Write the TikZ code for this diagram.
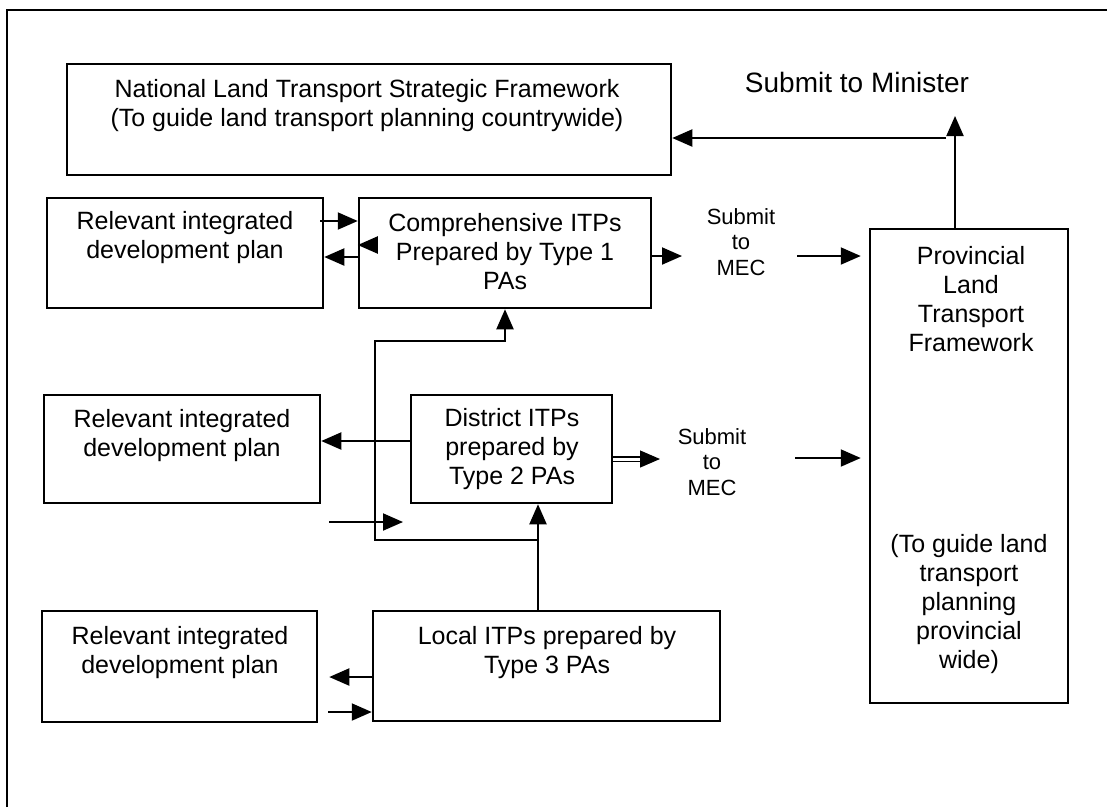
\documentclass[tikz,border=0pt]{standalone}
\usepackage{fontspec}
\setmainfont{Liberation Sans}
\usetikzlibrary{arrows.meta}
\usetikzlibrary{positioning}

\begin{document}
\begin{tikzpicture}[x=1pt, y=-1pt,
		box/.style={draw, line width=2.5pt, inner sep=0pt},
		txt/.style={align=center, inner sep=0pt, font=\fontsize{25}{29}\selectfont},
		small/.style={align=center, inner sep=0pt, font=\fontsize{22}{25.5}\selectfont},
		arr/.style={line width=2pt, -{Triangle[length=20pt,width=17pt]}}]
		
		\useasboundingbox (0,0) rectangle (1107,807);
		\draw[line width=2pt] (7,807) -- (7,10) -- (1107,10);
		
		% boxes
		\node[box, minimum width=604pt, minimum height=111pt] (nltsf) at (369,119.5) {};
		\node[box, minimum width=276pt, minimum height=110pt] (ridpa) at (185,253) {};
		\node[box, minimum width=292pt, minimum height=110pt] (comp) at (505,253) {};
		\node[box, minimum width=198pt, minimum height=474pt] (prov) at (969,466) {};
		\node[box, minimum width=276pt, minimum height=108pt] (ridpb) at (182,449) {};
		\node[box, minimum width=201pt, minimum height=108pt] (dist) at (511.5,449) {};
		\node[box, minimum width=275pt, minimum height=111pt] (ridpc) at (179.5,666.5) {};
		\node[box, minimum width=347pt, minimum height=110pt] (local) at (546.5,666) {};
		
		% texts
		\node[txt] (nltsf-t) at (367,105.5) {National Land Transport Strategic Framework\\(To guide land transport planning countrywide)};
		\node[txt, font=\fontsize{28}{32}\selectfont] (minister) at (857,82) {Submit to Minister};
		\node[txt] (ridpa-t) at (185,238) {Relevant integrated\\development plan};
		\node[txt] (comp-t) at (505,252) {Comprehensive ITPs\\Prepared by Type 1\\PAs};
		\node[small] (meca) at (741,242) {Submit\\to\\MEC};
		\node[txt] (prov-t) at (971,299.5) {Provincial\\Land\\Transport\\Framework};
		\node[txt] (prov-b) at (969,604.5) {(To guide land\\transport\\planning\\provincial\\wide)};
		\node[txt] (ridpb-t) at (182,436) {Relevant integrated\\development plan};
		\node[txt] (dist-t) at (512,449.5) {District ITPs\\prepared by\\Type 2 PAs};
		\node[small] (mecb) at (712,462) {Submit\\to\\MEC};
		\node[txt] (ridpc-t) at (180,652.5) {Relevant integrated\\development plan};
		\node[txt] (local-t) at (547,652.5) {Local ITPs prepared by\\Type 3 PAs};
		
		% connectors
		\coordinate (mintop) at (955,116);
		\coordinate (back) at (946,138);
		\draw[arr] (prov.north -| mintop) -- (mintop);
		\draw[arr] (back) -- (back -| nltsf.east);
		
		\draw[arr] ([xshift=-4pt]ridpa.east |- 0,221) -- (comp.west |- 0,221);
		\draw[arr] (comp.west |- 0,257) -- (ridpa.east |- 0,257);
		\draw[arr] ([xshift=16pt]comp.west |- 0,245) -- (comp.west |- 0,245);
		\draw[arr] (comp.east |- 0,256) -- (682,256);
		\draw[arr] (797,256) -- ([xshift=-8pt]prov.west |- 0,256);
		
		\coordinate (join) at (538,540);
		\draw[arr] (local.north -| join) -- (dist.south -| join);
		\draw[arr] (join) -- (375,540) -- (375,341) -| (comp.south);
		\draw[arr] (329,522) -- (403,522);
		
		\draw[arr] (dist.west |- 0,441) -- (ridpb.east |- 0,441);
		\draw[line width=1.2pt, double, double distance=3pt, -{Triangle[length=20pt,width=17pt]}] (dist.east |- 0,459) -- (660,459);
		\draw[arr] (795,458) -- ([xshift=-8pt]prov.west |- 0,458);
		
		\draw[arr] (local.west |- 0,677) -- ([xshift=11pt]ridpc.east |- 0,677);
		\draw[arr] ([xshift=10pt]ridpc.east |- 0,712) -- (local.west |- 0,712);
		
	\end{tikzpicture}
\end{document}
